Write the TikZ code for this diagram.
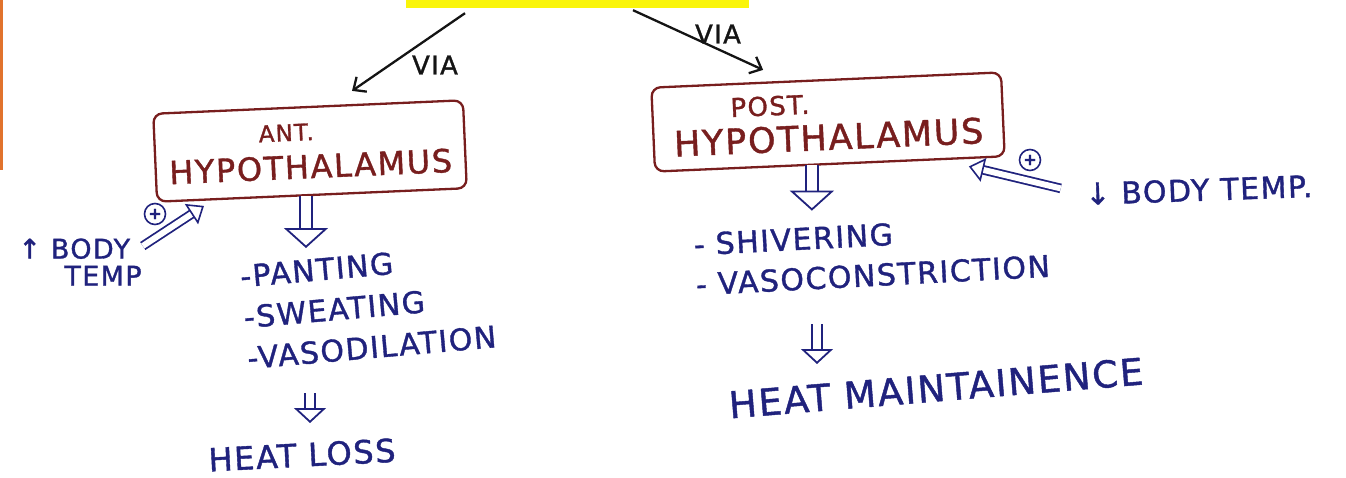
\documentclass[tikz,border=0pt]{standalone}
\usepackage{fontspec}
\setmainfont{DejaVu Sans}[LetterSpace=5, FakeBold=1.2]
\definecolor{ink}{RGB}{32, 34, 125}
\definecolor{boxred}{RGB}{120, 30, 30}
\definecolor{pen}{RGB}{20, 20, 20}
\definecolor{marker}{RGB}{250, 245, 10}
\definecolor{tape}{RGB}{225, 115, 45}
\usetikzlibrary{shapes,arrows.meta,positioning,calc}

\begin{document}
\begin{tikzpicture}[x=1pt, y=-1pt,
    region/.style={draw=boxred, line width=2.3pt, rounded corners=9pt, rotate=2.5,
      text=boxred, align=left, inner sep=4pt},
    hand/.style={text=ink, align=left, inner sep=1pt},
    via/.style={draw=pen, line width=2.3pt, -{Straight Barb[length=10pt, width=18pt]}},
    vialabel/.style={text=pen, font=\fontsize{26}{26}\selectfont},
    hollow/.style={draw=ink, line width=1.8pt, double=white, double distance=#1},
    bigdown/.style={hollow=10pt, -{Triangle[open, line width=1.8pt, length=20pt, width=44pt]}},
    smalldown/.style={hollow=8pt, -{Triangle[open, line width=1.8pt, length=15pt, width=32pt]}},
    push/.style={hollow=6pt, -{Triangle[open, line width=1.6pt, length=15pt, width=24pt]}},
    plus/.style={circle, draw=ink, line width=1.6pt, text=ink, inner sep=0pt,
      minimum size=21pt, font=\fontsize{16}{16}\selectfont\bfseries},
  ]
  \useasboundingbox (0,0) rectangle (1346,478);
  \fill[tape] (0,0) rectangle (3,170);

  % highlighted heading, cut off at the top edge
  \node[fill=marker, minimum width=343pt, minimum height=30pt, inner sep=0pt] (title) at (577,-7) {};

  \node[region, minimum width=310pt, minimum height=88pt, font=\fontsize{32}{38}\selectfont]
    (ant) at (310,151) {\hspace*{91pt}{\fontsize{23}{38}\selectfont ANT.}\\HYPOTHALAMUS};
  \node[region, minimum width=350pt, minimum height=84pt, font=\fontsize{35}{37}\selectfont]
    (post) at (828,122) {\hspace*{58pt}{\fontsize{26}{37}\selectfont POST.}\\HYPOTHALAMUS};

  \draw[via] ([xshift=-112pt, yshift=-5pt]title.south) -- ([xshift=44pt, yshift=15pt]ant.north);
  \draw[via] ([xshift=56pt, yshift=-2pt]title.south) -- ([xshift=-63pt, yshift=9pt]post.north);
  \node[vialabel] (via1) at (435,65) {VIA};
  \node[vialabel] (via2) at (718,34) {VIA};

  % anterior side: heat loss
  \node[hand, rotate=5, anchor=north west, font=\fontsize{30}{41}\selectfont]
    (antfx) at (238,264) {-PANTING\\-SWEATING\\-VASODILATION};
  \draw[bigdown, shorten >=5pt] ([xshift=-6pt]ant.south) -- ([xshift=-6pt]ant.south |- antfx.north);
  \node[hand, rotate=3, font=\fontsize{32}{32}\selectfont] (antloss) at (302,455) {HEAT LOSS};
  \draw[smalldown] ($(antloss)+(8,-62)$) -- ($(antloss)+(8,-32)$);

  \node[hand, font=\fontsize{27}{27}\selectfont] (ltemp) at (80,262) {↑ BODY\\\hspace*{46pt}TEMP};
  \node[plus] (lplus) at (155,214) {+};
  \draw[push] ([yshift=16pt]ltemp.east) -- ([xshift=48pt, yshift=-3pt]ant.south west);

  % posterior side: heat maintenance
  \node[hand, rotate=3, anchor=north west, font=\fontsize{30}{40}\selectfont]
    (postfx) at (692,232) {- SHIVERING\\- VASOCONSTRICTION};
  \draw[bigdown, shorten >=12pt] ([xshift=-18pt]post.south) -- ([xshift=-18pt]post.south |- postfx.north);
  \node[hand, rotate=4.7, font=\fontsize{37}{37}\selectfont] (postout) at (936,388) {HEAT MAINTAINENCE};
  \draw[smalldown] ($(postout)+(-119,-64)$) -- ($(postout)+(-119,-24)$);

  \node[hand, rotate=2, anchor=west, font=\fontsize{30}{30}\selectfont] (rtemp) at (1084,194) {↓ BODY TEMP.};
  \node[plus] (rplus) at (1030,160) {+};
  \draw[push, shorten <=24pt] (rtemp.west) -- ([xshift=-37pt, yshift=-9pt]post.south east);
\end{tikzpicture}
\end{document}
